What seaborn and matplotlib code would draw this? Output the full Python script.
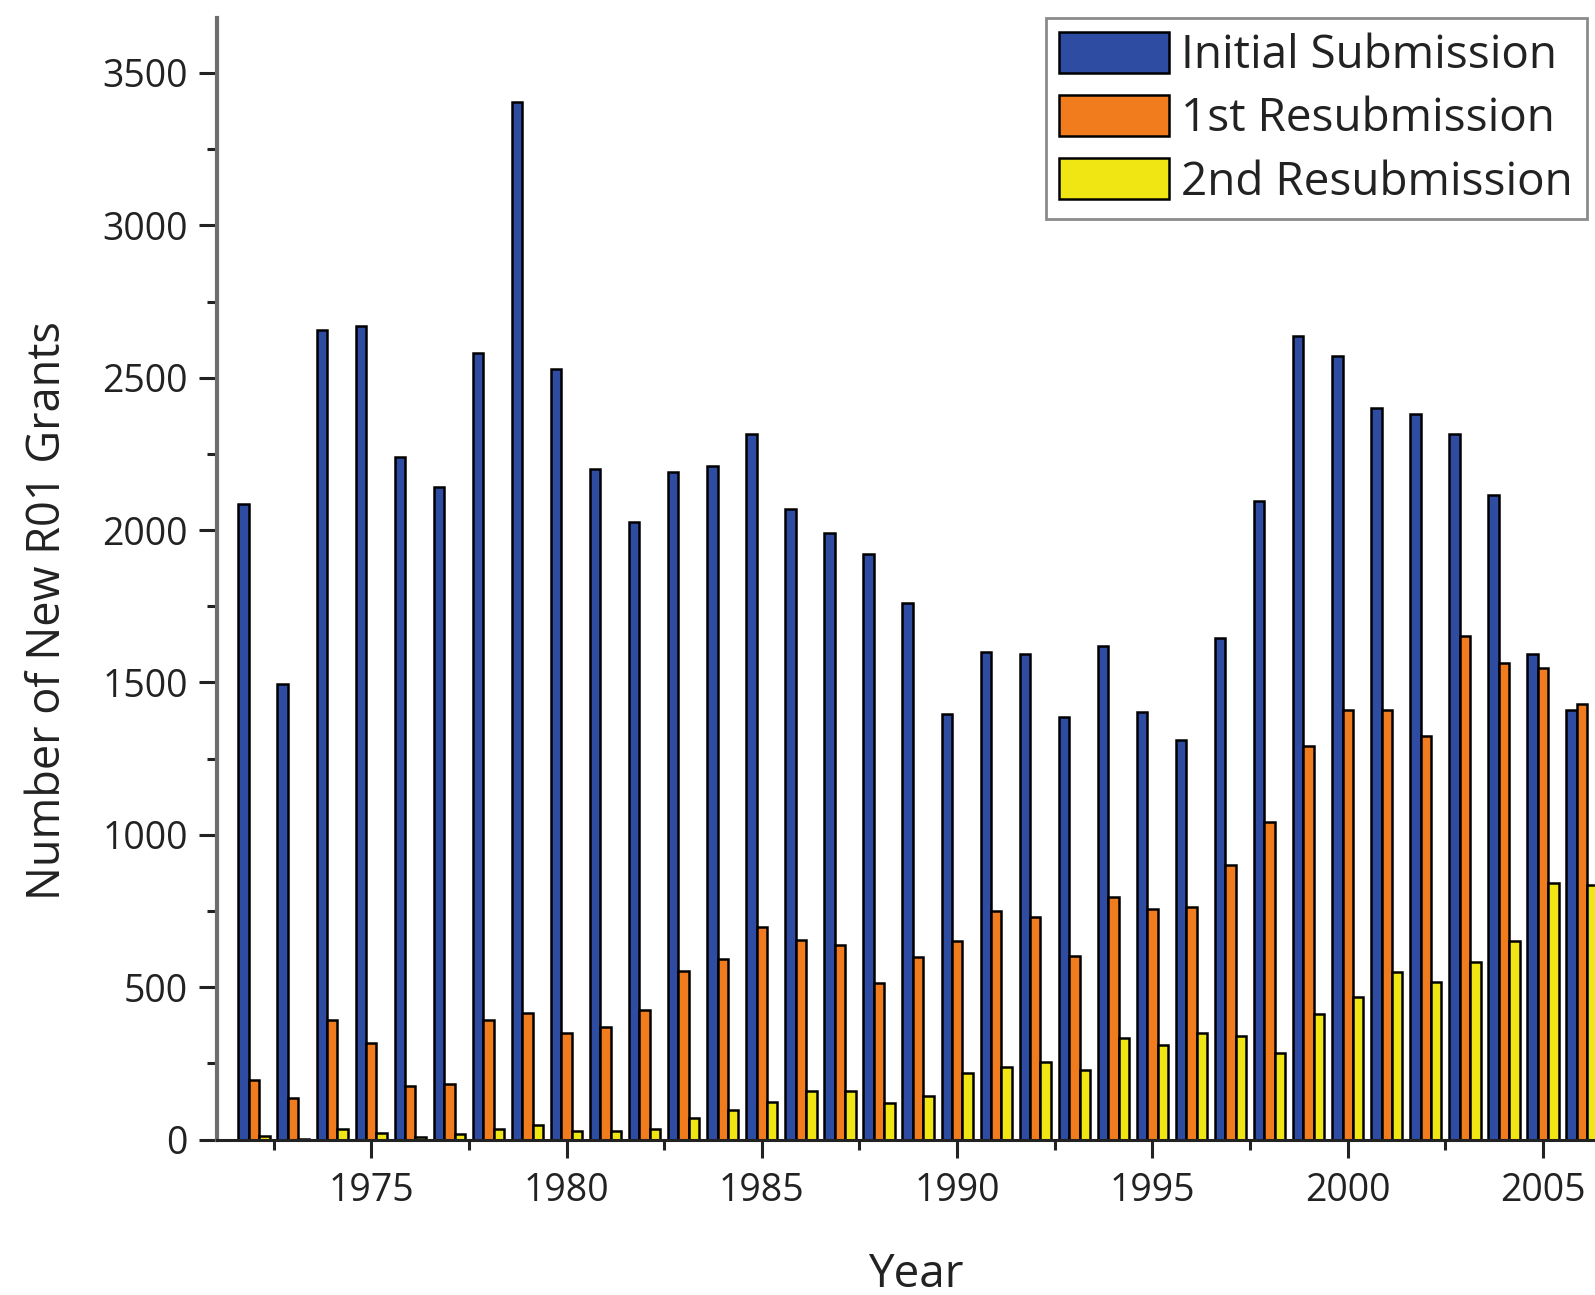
import numpy as np
import pandas as pd
import seaborn as sns
import matplotlib.pyplot as plt
from matplotlib.ticker import MultipleLocator

years = list(range(1972, 2007))
initial = [2085, 1495, 2655, 2670, 2240, 2140, 2580, 3405, 2528, 2200, 2025, 2190, 2210, 2315,
           2068, 1990, 1920, 1760, 1396, 1600, 1595, 1387, 1620, 1402, 1310, 1645, 2095, 2636,
           2570, 2400, 2382, 2315, 2115, 1595, 1409]
resub1 = [194, 135, 394, 317, 175, 184, 393, 415, 349, 368, 426, 553, 591, 696,
          656, 637, 514, 600, 652, 750, 731, 603, 795, 758, 764, 900, 1041, 1293,
          1409, 1409, 1325, 1652, 1565, 1547, 1431]
resub2 = [12, 2, 36, 22, 9, 19, 36, 48, 29, 29, 36, 70, 96, 125,
          160, 160, 121, 143, 218, 237, 255, 227, 334, 310, 351, 339, 285, 412,
          467, 550, 518, 584, 652, 841, 837]
series = ["Initial Submission", "1st Resubmission", "2nd Resubmission"]
colors = ["#2F4CA3", "#F07C1E", "#F0E614"]

df = pd.DataFrame({
    "Year": years * 3,
    "Count": initial + resub1 + resub2,
    "Type": [series[0]] * len(years) + [series[1]] * len(years) + [series[2]] * len(years),
})

sns.set_style("white")
plt.rcParams["font.family"] = ["Open Sans", "DejaVu Sans"]

fig = plt.figure(figsize=(15.95, 12.95), dpi=100)
ax = fig.add_axes([0.136, 0.12, 0.864, 0.866])

sns.barplot(data=df, x="Year", y="Count", hue="Type", palette=colors, native_scale=True,
            width=0.8, saturation=1, edgecolor="black", linewidth=1.8, ax=ax)

ax.set_xlim(1971.05, 2006.33)
ax.set_ylim(0, 3680)
ax.xaxis.set_major_locator(MultipleLocator(5))
ax.xaxis.set_minor_locator(MultipleLocator(2.5))
ax.yaxis.set_major_locator(MultipleLocator(500))
ax.yaxis.set_minor_locator(MultipleLocator(250))
ax.set_yticks(np.arange(0, 3501, 500))

for s in ["top", "right"]:
    ax.spines[s].set_visible(False)
ax.spines["left"].set_color("#6e6e6e")
ax.spines["left"].set_linewidth(3)
ax.spines["bottom"].set_color("#222222")
ax.spines["bottom"].set_linewidth(2.2)

ax.tick_params(axis="both", which="major", direction="out", labelsize=27, colors="#222222",
               length=13, width=2.2, left=True, bottom=True)
ax.tick_params(axis="both", which="minor", direction="out", length=7, width=2.2,
               left=True, bottom=True, color="#222222")
ax.tick_params(axis="x", which="major", pad=10)
ax.tick_params(axis="y", which="major", pad=8)

ax.set_xlabel("Year", fontsize=33, color="#222222")
ax.set_ylabel("Number of New R01 Grants", fontsize=32.5, color="#222222")
ax.xaxis.set_label_coords(0.507, -0.100)
ax.yaxis.set_label_coords(-0.106, 0.472)

handles, labels = ax.get_legend_handles_labels()
leg = ax.legend(handles, labels, loc="upper right", bbox_to_anchor=(0.994, 1.0),
                fontsize=33, frameon=True, fancybox=False, handlelength=2.4,
                handleheight=1.0, handletextpad=0.26, labelspacing=0.35,
                borderpad=0.3, borderaxespad=0.0)
leg.get_frame().set_edgecolor("#6e6e6e")
leg.get_frame().set_linewidth(2)
for t in leg.get_texts():
    t.set_color("#222222")

fig.savefig("out.png", dpi=100)
